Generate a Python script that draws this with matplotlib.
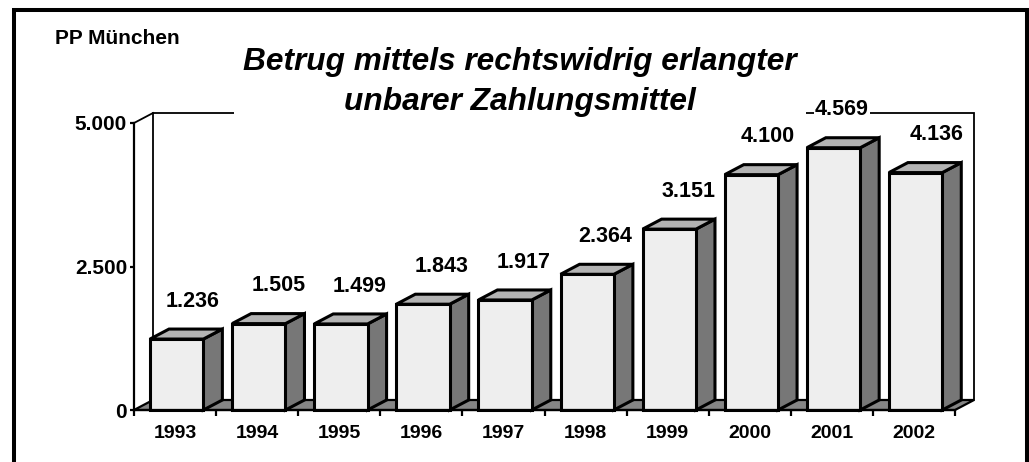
import matplotlib
matplotlib.use("Agg")
import matplotlib.pyplot as plt
from matplotlib.patches import Polygon, Rectangle
from matplotlib.ticker import FixedLocator, NullFormatter

plt.rcParams['font.family'] = ['Liberation Sans', 'DejaVu Sans']

# ---- data ----
years = ['1993', '1994', '1995', '1996', '1997', '1998', '1999', '2000', '2001', '2002']
values = [1236, 1505, 1499, 1843, 1917, 2364, 3151, 4100, 4569, 4136]
value_labels = ['1.236', '1.505', '1.499', '1.843', '1.917', '2.364', '3.151', '4.100', '4.569', '4.136']
ytick_vals = [0, 2500, 5000]
ytick_labels = ['0', '2.500', '5.000']
title = 'Betrug mittels rechtswidrig erlangter\nunbarer Zahlungsmittel'
corner_text = 'PP München'

# ---- layout ----
W, H = 1029, 462
label_dx_px = [18, 22, 20, 20, 20, 20, 21, 18, 10, 23]

fig = plt.figure(figsize=(W / 100, H / 100), dpi=100)
fig.patch.set_facecolor('white')

# axes = front plane of the 3D chart
ax_left, ax_bottom, ax_w, ax_h = 134, 52, 821, 287
ax = fig.add_axes([ax_left / W, ax_bottom / H, ax_w / W, ax_h / H])
ax.set_xlim(-0.5, len(years) - 0.5)
ax.set_ylim(0, 5000)
ax.patch.set_visible(False)

cat_px = ax_w / len(years)
# depth offsets (in data units) : 19 px right, 10 px up
DX = 19 / cat_px
DY = 10 / ax_h * 5000

x0, x1 = -0.5, len(years) - 0.5
ymax = 5000
wall_lw = 1.3

# back wall outline
ax.plot([x0 + DX, x0 + DX, x1 + DX, x1 + DX], [DY, ymax + DY, ymax + DY, DY],
        color='black', lw=wall_lw, clip_on=False, zorder=1, solid_joinstyle='miter')
ax.plot([x0, x0 + DX], [ymax, ymax + DY], color='black', lw=wall_lw, clip_on=False, zorder=1)

# floor
floor = Polygon([(x0, 0), (x1, 0), (x1 + DX, DY), (x0 + DX, DY)], closed=True,
                facecolor='#858585', edgecolor='black', lw=1.6, clip_on=False, zorder=2,
                joinstyle='miter')
ax.add_patch(floor)

# bars
bw = 0.65
edge_lw = 2.2
for i, v in enumerate(values):
    bx0 = i - bw / 2 + 0.02
    bx1 = bx0 + bw
    side = Polygon([(bx1, 0), (bx1 + DX, DY), (bx1 + DX, v + DY), (bx1, v)], closed=True,
                   facecolor='#777777', edgecolor='black', lw=edge_lw, clip_on=False,
                   zorder=3, joinstyle='miter')
    top = Polygon([(bx0, v), (bx0 + DX, v + DY), (bx1 + DX, v + DY), (bx1, v)], closed=True,
                  facecolor='#b3b3b3', edgecolor='black', lw=edge_lw, clip_on=False,
                  zorder=3, joinstyle='miter')
    front = Rectangle((bx0, 0), bw, v, facecolor='#eeeeee', edgecolor='black', lw=edge_lw,
                      clip_on=False, zorder=4, joinstyle='miter')
    ax.add_patch(side)
    ax.add_patch(top)
    ax.add_patch(front)
    ax.text(i + label_dx_px[i] / cat_px, v + 660, value_labels[i], ha='center', va='center',
            fontsize=15.5, fontweight='bold', zorder=6,
            bbox=dict(boxstyle='square,pad=0.05', facecolor='white', edgecolor='none'))

# spines / ticks
for s in ['top', 'right']:
    ax.spines[s].set_visible(False)
ax.spines['left'].set_linewidth(1.6)
ax.spines['bottom'].set_linewidth(1.6)
ax.spines['left'].set_zorder(1)
ax.spines['bottom'].set_zorder(5)

ax.set_yticks(ytick_vals)
ax.set_yticklabels(ytick_labels, fontsize=15, fontweight='bold')
ax.tick_params(axis='y', direction='out', length=3, width=1.6, pad=2)

ax.set_xticks(range(len(years)))
ax.set_xticklabels(years, fontsize=14, fontweight='bold')
ax.tick_params(axis='x', which='major', length=0, pad=11)
ax.xaxis.set_minor_locator(FixedLocator([k - 0.5 for k in range(len(years) + 1)]))
ax.xaxis.set_minor_formatter(NullFormatter())
ax.tick_params(axis='x', which='minor', direction='out', length=4, width=1.6)

# title with white background (hides back wall line)
fig.text(520 / W, 1 - 82 / H, title, ha='center', va='center', fontsize=22.8,
         fontweight='bold', fontstyle='italic', linespacing=1.45, zorder=10,
         bbox=dict(boxstyle='square,pad=0.3', facecolor='white', edgecolor='none'))

fig.text(55 / W, 1 - 38 / H, corner_text, ha='left', va='center', fontsize=15,
         fontweight='bold')

# outer frame
frame = Rectangle((14 / W, -0.2), (1027 - 14) / W, 1.2 - 10 / H, transform=fig.transFigure,
                  fill=False, edgecolor='black', lw=2.9, zorder=20, joinstyle='miter')
fig.patches.append(frame)

fig.savefig('out.png', dpi=100)
